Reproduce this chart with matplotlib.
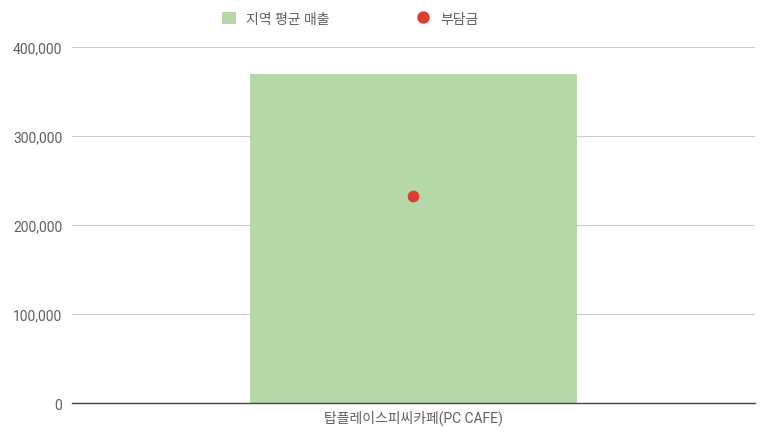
import matplotlib.pyplot as plt
from matplotlib.ticker import FuncFormatter
from matplotlib.lines import Line2D
from matplotlib.patches import Patch

plt.rcParams['font.family'] = ['Roboto', 'Noto Sans CJK KR', 'DejaVu Sans']

# data
categories = ["탑플레이스피씨카페(PC CAFE)"]
avg_sales = [370000]
charge = [233000]
series_names = ["지역 평균 매출", "부담금"]

text_color = "#5f5f5f"

fig = plt.figure(figsize=(7.73, 4.39), dpi=100)
ax = fig.add_axes([0.0931, 0.0797, 0.8836, 0.811])

x = list(range(len(categories)))
ax.bar(x, avg_sales, width=0.48, color="#b6d7a8", zorder=2)
ax.scatter(x, charge, s=55, color="#dc3e31", zorder=3)

ax.set_xlim(-0.5, 0.5)
ax.set_ylim(0, 400000)
ax.set_yticks([0, 100000, 200000, 300000, 400000])
ax.yaxis.set_major_formatter(FuncFormatter(lambda v, p: f"{int(v):,}"))
ax.set_xticks(x)
ax.set_xticklabels(categories)

ax.grid(axis="y", color="#cccccc", linewidth=0.8, zorder=0)
for s in ["top", "right", "left"]:
    ax.spines[s].set_visible(False)
ax.spines["bottom"].set_color("#444444")
ax.spines["bottom"].set_linewidth(1.0)
ax.spines["bottom"].set_zorder(4)
ax.tick_params(axis="both", length=0, colors=text_color, labelsize=10)
ax.tick_params(axis="y", pad=7)
ax.tick_params(axis="x", pad=5)

handles = [
    Patch(facecolor="#b6d7a8", edgecolor="none"),
    Line2D([], [], marker="o", linestyle="none", markersize=9,
           markerfacecolor="#dc3e31", markeredgecolor="none"),
]
leg = fig.legend(handles, series_names, loc="center", bbox_to_anchor=(0.453, 0.955),
                 ncol=2, frameon=False, fontsize=10, columnspacing=6.3,
                 handlelength=1.0, handleheight=1.0, handletextpad=0.7)
for t in leg.get_texts():
    t.set_color(text_color)

fig.savefig("out.png", dpi=100)
